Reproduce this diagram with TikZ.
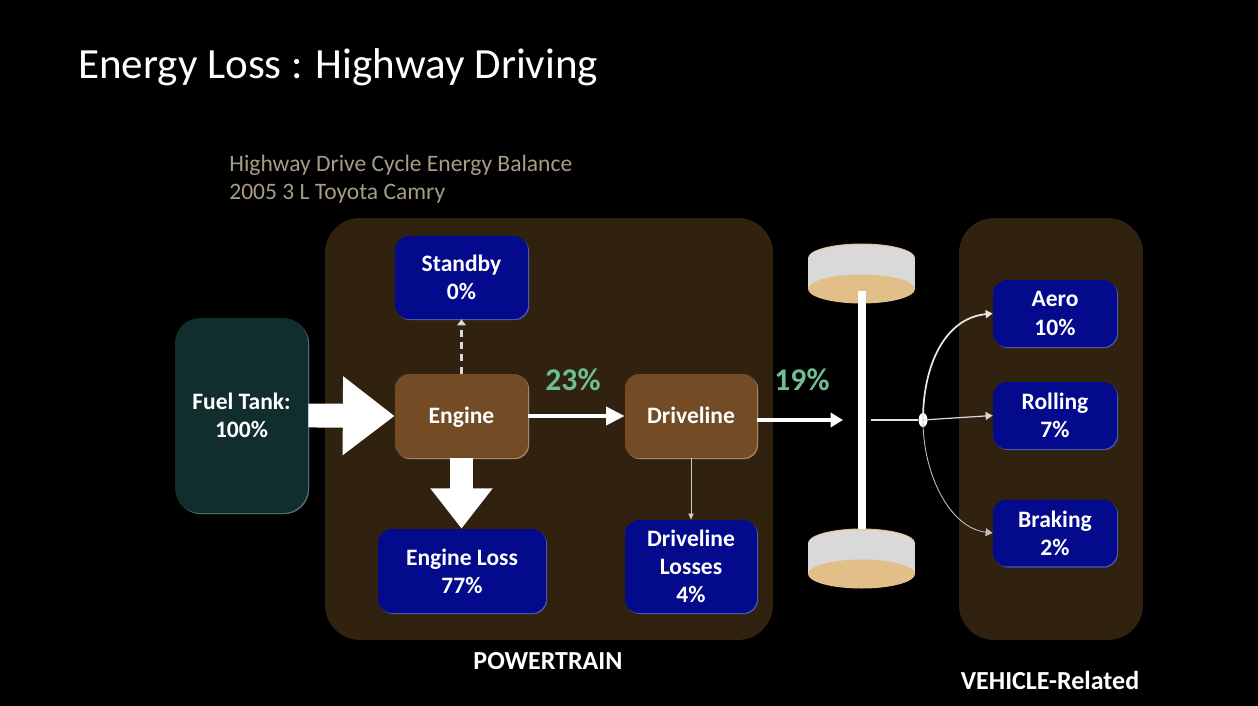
\documentclass[tikz,border=0pt]{standalone}
\usepackage{fontspec}
\setmainfont{Carlito}
\usetikzlibrary{arrows.meta,shapes.geometric}
\definecolor{panelbrown}{HTML}{31220F}
\definecolor{boxblue}{HTML}{030A8C}
\definecolor{boxedge}{HTML}{4A58B4}
\definecolor{enginebrown}{HTML}{734B25}
\definecolor{engineedge}{HTML}{A58560}
\definecolor{tankteal}{HTML}{122D2D}
\definecolor{tankedge}{HTML}{4F6F6C}
\definecolor{flowgreen}{HTML}{6DBE93}
\definecolor{notetan}{HTML}{A89C86}
\definecolor{wheelgray}{HTML}{D9D9D9}
\definecolor{wheeltan}{HTML}{E2BF88}
\tikzset{
	panel/.style={fill=panelbrown, rounded corners=0.7cm, inner sep=0pt},
	lossbox/.style={fill=boxblue, preaction={fill=boxedge, transform canvas={shift={(0.6pt,-0.6pt)}}},
		rounded corners=0.28cm, inner sep=0pt,
		text=white, align=center, font=\fontsize{13.4}{16}\selectfont\bfseries},
	enginebox/.style={lossbox, fill=enginebrown, preaction={fill=engineedge, transform canvas={shift={(0.6pt,-0.6pt)}}},
		text height=11.1pt, text depth=3pt},
	tankbox/.style={lossbox, fill=tankteal, preaction={fill=tankedge, transform canvas={shift={(0.6pt,-0.6pt)}}}, rounded corners=0.5cm},
	percent/.style={text=flowgreen, font=\fontsize{18}{20}\selectfont\bfseries},
	note/.style={text=notetan, anchor=west, font=\fontsize{13.4}{15}\selectfont},
	caption/.style={text=white, font=\fontsize{14.8}{16}\selectfont\bfseries},
}
\begin{document}
\begin{tikzpicture}[x=0.02cm, y=-0.02cm]
	\useasboundingbox (0,0) rectangle (1258,706);
	\fill[black] (0,0) rectangle (1258,706);
	% headings
	\node[anchor=west, text=white, inner sep=0pt, font=\fontsize{24.5}{28}\selectfont] (title) at (78,67) {Energy Loss : Highway Driving};
	\node[note, inner sep=0pt] (cycle) at (229,165) {Highway Drive Cycle Energy Balance};
	\node[note, inner sep=0pt] (car) at (229,193.5) {2005 3 L Toyota Camry};
	% background panels
	\node[panel, minimum width=8.96cm, minimum height=8.44cm] (powertrain) at (549,429) {};
	\node[panel, minimum width=3.68cm, minimum height=8.44cm] (vehicle) at (1051,429) {};
	\node[caption] (powerlabel) at (548,661) {POWERTRAIN};
	\node[caption] (vehiclelabel) at (1050,680) {VEHICLE-Related};
	% fuel path boxes
	\node[tankbox, minimum width=2.66cm, minimum height=3.9cm] (tank) at (241.5,415.5) {Fuel Tank:\\100\%};
	\node[enginebox, minimum width=2.66cm, minimum height=1.68cm] (engine) at (461.5,416) {Engine};
	\node[enginebox, minimum width=2.64cm, minimum height=1.68cm] (driveline) at (691,416) {Driveline};
	\node[lossbox, minimum width=2.66cm, minimum height=1.66cm] (standby) at (461.5,277.5) {Standby\\0\%};
	\node[lossbox, minimum width=3.36cm, minimum height=1.68cm] (engineloss) at (462,571) {Engine Loss\\77\%};
	\node[lossbox, minimum width=2.64cm, minimum height=1.86cm] (drivelineloss) at (691,566.5) {Driveline\\Losses\\4\%};
	\node[lossbox, minimum width=2.48cm, minimum height=1.34cm] (aero) at (1055,313.5) {Aero\\10\%};
	\node[lossbox, minimum width=2.48cm, minimum height=1.34cm] (rolling) at (1055,415.5) {Rolling\\7\%};
	\node[lossbox, minimum width=2.48cm, minimum height=1.34cm] (braking) at (1055,533) {Braking\\2\%};
	\node[percent] (enginepct) at (573,380) {23\%};
	\node[percent] (drivelinepct) at (802,380) {19\%};
	% wheels and axle
	\foreach \wheely in {258,543} {
		\fill[wheeltan] (861.5,\wheely) ellipse [x radius=53.5, y radius=14.5];
		\fill[wheelgray] (808,\wheely) rectangle (915,\wheely+31);
		\fill[wheelgray] (861.5,\wheely+0.5) ellipse [x radius=53, y radius=14];
		\fill[wheeltan] (861.5,\wheely+31) ellipse [x radius=53.5, y radius=14.5];
	}
	\fill[white] (858,291) rectangle (866,529);
	% energy flows
	\draw[-{Triangle[length=29.5pt, width=43pt]}, line width=13.6pt, white] (tank.east) -- (engine.west);
	\draw[-{Triangle[length=23pt, width=34pt]}, line width=12.6pt, white] (engine.south) -- (engine.south |- engineloss.north);
	\draw[-{Triangle[length=10.5pt, width=10pt]}, line width=2.8pt, white] (engine.east) -- (driveline.west);
	\draw[dash pattern=on 4pt off 3pt, -{Triangle[length=3.5pt, width=5pt]}, line width=1.4pt, white!85!black] (engine.north) -- (standby.south);
	\draw[-{Triangle[length=3.5pt, width=3pt]}, line width=0.4pt, white!80!black] (driveline.south) -- (driveline.south |- drivelineloss.north);
	\coordinate (axlein) at (843,420);
	\coordinate (axleout) at (871,420);
	\draw[-{Triangle[length=7pt, width=8pt]}, line width=2pt, white] (driveline.east |- axlein) -- (axlein);
	\node[ellipse, fill=white, inner sep=0pt, minimum width=0.18cm, minimum height=0.28cm] (hub) at (923,420) {};
	\draw[line width=1.3pt, white!90!black] (axleout) -- (hub);
	\draw[-{Triangle[length=4pt, width=4.5pt]}, line width=1pt, white!90!black] (hub.center) .. controls (923,365) and (945,318) .. (aero.west);
	\draw[-{Triangle[length=4pt, width=4.5pt]}, line width=0.7pt, white!85!black] (hub.center) -- (rolling.west);
	\draw[-{Triangle[length=4pt, width=4.5pt]}, line width=0.5pt, white!75!black] (hub.center) .. controls (923,475) and (950,528) .. (braking.west);
\end{tikzpicture}
\end{document}
